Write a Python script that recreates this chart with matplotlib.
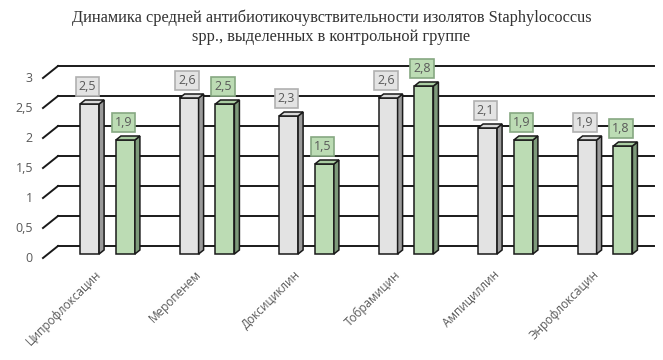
import matplotlib
matplotlib.use("Agg")
import matplotlib.pyplot as plt
from matplotlib.patches import Polygon

drugs = ["Ципрофлоксацин", "Меропенем", "Доксициклин", "Тобрамицин", "Ампициллин", "Энрофлоксацин"]
before = [2.5, 2.6, 2.3, 2.6, 2.1, 1.9]
after = [1.9, 2.5, 1.5, 2.8, 1.9, 1.8]
yticks = [0, 0.5, 1, 1.5, 2, 2.5, 3]
ytick_labels = ["0", "0,5", "1", "1,5", "2", "2,5", "3"]

W, H = 663, 360
fig = plt.figure(figsize=(W / 100, H / 100), dpi=100)

# back wall of the 3d box in pixels
left, right, y0, y3 = 58, 654, 246, 66
ax = fig.add_axes([left / W, (H - y0) / H, (right - left) / W, (y0 - y3) / H])
step = 99.5  # px per category
c0 = 117
ax.set_xlim(-(c0 - left) / step, 5 + (right - (c0 + 5 * step)) / step)
ax.set_ylim(0, 3)
ax.axis("off")

ux = 1 / step   # data per px
uy = 3 / (y0 - y3)

def off(x, y, dx, dy):
    # dx, dy in pixels, dy positive = down
    return (x + dx * ux, y - dy * uy)

txt = "#595959"
line = "#1a1a1a"

# gridlines with the diagonal on the left side
xl, xr = ax.get_xlim()
for v, lab in zip(yticks, ytick_labels):
    ax.plot([xl, xr], [v, v], color=line, lw=1.4, clip_on=False, zorder=1)
    fx, fy = off(xl, v, -15, 12)
    ax.plot([fx, xl], [fy, v], color=line, lw=1.4, clip_on=False, zorder=1)
    tx, ty = off(xl, v, -25, 12)
    ax.text(tx, ty, lab, ha="right", va="center", fontsize=9, color=txt,
            family="Open Sans")

bw = 19 * ux
faces = {
    "grey": ("#e3e3e3", "#9a9a9a", "#d9d9d9", "#b0b0b0"),
    "green": ("#bcdcb4", "#7d9a7a", "#aacda2", "#86a882"),
}

def bar3d(xc, v, style, z):
    front, side, top, boxedge = faces[style]
    xa, xb = xc - bw / 2, xc + bw / 2
    F = lambda x, y: off(x, y, -10, 8)
    B = lambda x, y: off(x, y, -5, 4)
    ax.add_patch(Polygon([F(xa, 0), F(xb, 0), F(xb, v), F(xa, v)], closed=True,
                         facecolor=front, edgecolor=line, lw=1.1, zorder=z, clip_on=False))
    ax.add_patch(Polygon([F(xb, 0), B(xb, 0), B(xb, v), F(xb, v)], closed=True,
                         facecolor=side, edgecolor=line, lw=1.1, zorder=z, clip_on=False))
    ax.add_patch(Polygon([F(xa, v), F(xb, v), B(xb, v), B(xa, v)], closed=True,
                         facecolor=top, edgecolor=line, lw=1.1, zorder=z, clip_on=False))
    lx, ly = off(xc, v, -12, -3)
    ax.text(lx, ly, f"{v:.1f}".replace(".", ","), ha="center", va="bottom",
            fontsize=9, color=txt, family="Open Sans", zorder=z + 1,
            bbox=dict(boxstyle="square,pad=0.25", facecolor=front, edgecolor=boxedge, lw=1.2))

for i, (a, b) in enumerate(zip(before, after)):
    bar3d(i - 0.175, a, "grey", 3)
    bar3d(i + 0.185, b, "green", 3)
    lx, ly = off(i, 0, -22, 22)
    ax.text(lx, ly, drugs[i], rotation=45, rotation_mode="anchor", ha="right", va="top",
            fontsize=8.5, color=txt, family="Open Sans")

fig.text(0.5, 1 - 27 / H, "Динамика средней антибиотикочувствительности изолятов Staphylococcus\nspp., выделенных в контрольной группе",
         ha="center", va="center", fontsize=11.8, family="Liberation Serif", color="#333333",
         linespacing=1.25)

fig.savefig("out.png", dpi=100)
